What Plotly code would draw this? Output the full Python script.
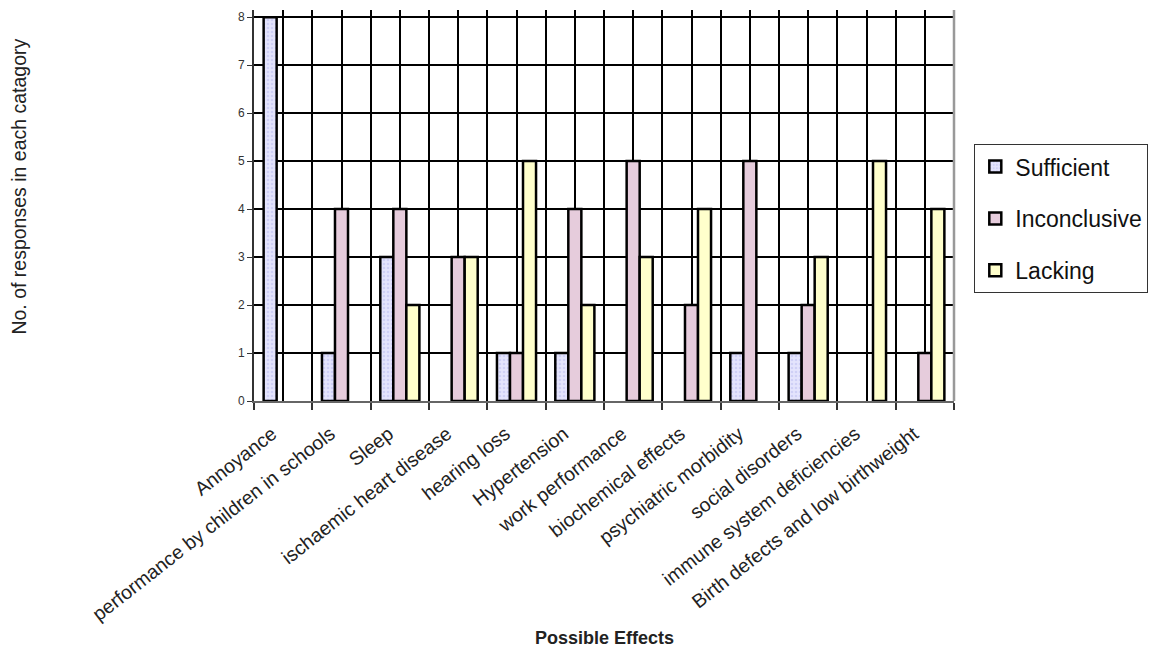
import plotly.graph_objects as go

# Survey responses per possible effect of noise exposure
categories = [
    "Annoyance",
    "performance by children in schools",
    "Sleep",
    "ischaemic heart disease",
    "hearing loss",
    "Hypertension",
    "work performance",
    "biochemical effects",
    "psychiatric morbidity",
    "social disorders",
    "immune system deficiencies",
    "Birth defects and low birthweight",
]
sufficient = [8, 1, 3, 0, 1, 1, 0, 0, 1, 1, 0, 0]
inconclusive = [0, 4, 4, 3, 1, 4, 5, 2, 5, 2, 0, 1]
lacking = [0, 0, 2, 3, 5, 2, 3, 4, 0, 3, 5, 4]
y_ticks = [0, 1, 2, 3, 4, 5, 6, 7, 8]

FONT = "Liberation Sans, Arial, sans-serif"
positions = list(range(len(categories)))

fig = go.Figure()

series = [
    ("Sufficient", sufficient, dict(color="#DCDDFB",
                                    pattern=dict(shape=".", bgcolor="#E4E4FD",
                                                 fgcolor="#B9BCF0", size=4, solidity=0.35))),
    ("Inconclusive", inconclusive, dict(color="#E6CCDC")),
    ("Lacking", lacking, dict(color="#FFFFCC")),
]

for name, vals, style in series:
    # empty categories get no bar (not even a flat outline)
    shown = [v if v else None for v in vals]
    fig.add_trace(go.Bar(
        x=positions,
        y=shown,
        name=name,
        legendgroup=name,
        marker=dict(**style, line=dict(color="black", width=2.5)),
    ))

fig.update_layout(
    width=1153,
    height=649,
    margin=dict(l=254, r=199, t=10, b=248, autoexpand=False),
    paper_bgcolor="white",
    plot_bgcolor="white",
    barmode="group",
    bargap=0.33,
    bargroupgap=0,
    font=dict(family=FONT, color="#222"),
    showlegend=True,
    legend=dict(
        x=1.029, y=0.657, xanchor="left", yanchor="top",
        bgcolor="white", bordercolor="#333", borderwidth=1,
        font=dict(size=23, color="#111"),
        tracegroupgap=19,
        traceorder="grouped",
        itemwidth=30,
    ),
)

fig.update_xaxes(
    range=[-0.5, len(categories) - 0.5],
    tickmode="array",
    tickvals=positions,
    ticktext=categories,
    tickangle=-38,
    ticks="outside",
    ticklen=12,
    tickcolor="rgba(0,0,0,0)",
    ticklabelshift=-11,
    tickfont=dict(size=19.5, color="#222"),
    showgrid=True,
    gridcolor="black",
    gridwidth=1.6,
    minor=dict(tick0=-0.5, dtick=1, ticks="outside", ticklen=7, tickcolor="#333",
               tickwidth=1.5, showgrid=True, gridcolor="black", gridwidth=1.6),
    showline=True,
    linecolor="#666",
    linewidth=2,
    zeroline=False,
)

fig.update_yaxes(
    range=[0, 8.15],
    tickmode="array",
    tickvals=y_ticks,
    ticks="outside",
    ticklen=5,
    tickcolor="#333",
    tickfont=dict(size=12, color="#333"),
    showgrid=True,
    gridcolor="black",
    gridwidth=1.6,
    showline=True,
    linecolor="#333",
    linewidth=1.8,
    zeroline=False,
)

# Right-hand border of the plot area
fig.add_shape(type="line", xref="paper", yref="paper", x0=1, x1=1, y0=0, y1=1,
              line=dict(color="#999", width=2.5))

# Axis titles
fig.add_annotation(text="No. of responses in each catagory", xref="paper", yref="paper",
                   x=-0.335, y=0.547, xanchor="center", yanchor="middle",
                   textangle=-90, showarrow=False,
                   font=dict(size=19.5, color="#222"))
fig.add_annotation(text="<b>Possible Effects</b>", xref="paper", yref="paper",
                   x=0.5, y=-0.606, xanchor="center", yanchor="middle", showarrow=False,
                   font=dict(size=18, color="#222"))

fig.write_html("out.html")
